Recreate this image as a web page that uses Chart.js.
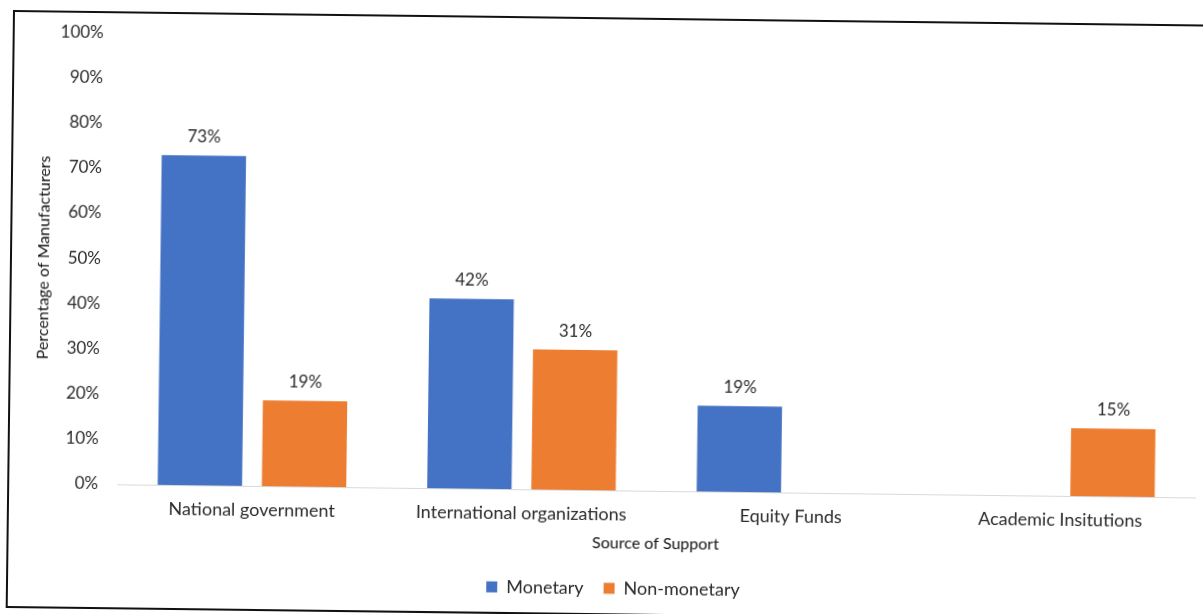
<!DOCTYPE html>
<html>
<head>
<meta charset="utf-8">
<script src="https://cdn.jsdelivr.net/npm/chart.js@4.4.1/dist/chart.umd.min.js"></script>
<style>
  html, body { margin: 0; padding: 0; background: #fff; overflow: hidden; }
  body { width: 1203px; height: 614px; position: relative; }
  #frame {
    position: absolute; left: 13px; top: 10px;
    width: 1212px; height: 598px; box-sizing: border-box;
    border: 2px solid #111; background: #fff;
    transform: rotate(0.7deg); transform-origin: 0 0;
  }
  #chart { position: absolute; left: 0; top: -10px; }
</style>
</head>
<body>
<div id="frame"><canvas id="chart" width="1208" height="604"></canvas></div>
<script>
// Sources of support and share of manufacturers receiving each kind
const categories = ['National government', 'International organizations', 'Equity Funds', 'Academic Insitutions'];
const monetary = [73, 42, 19, null];
const nonMonetary = [19, 31, null, 15];
const yTicks = [0, 10, 20, 30, 40, 50, 60, 70, 80, 90, 100];

const FONT = 'Lato, "Open Sans", sans-serif';
const TEXT = '#2b2b2b';

// Value labels above each bar
const barLabels = {
  id: 'barLabels',
  afterDatasetsDraw(chart) {
    const ctx = chart.ctx;
    ctx.save();
    ctx.font = '17px ' + FONT;
    ctx.fillStyle = TEXT;
    ctx.textAlign = 'center';
    ctx.textBaseline = 'bottom';
    chart.data.datasets.forEach((ds, i) => {
      chart.getDatasetMeta(i).data.forEach((bar, j) => {
        const v = ds.data[j];
        if (v === null || v === undefined) return;
        ctx.fillText(v + '%', bar.x, bar.y - 10);
      });
    });
    ctx.restore();
  }
};

// Centre the legend on the full canvas width rather than the padded box
const legendCentre = {
  id: 'legendCentre',
  afterLayout(chart) {
    const lg = chart.legend;
    if (!lg) return;
    const shift = 12;
    lg.left += shift;
    lg.right += shift;
  }
};

new Chart(document.getElementById('chart'), {
  type: 'bar',
  data: {
    labels: categories,
    datasets: [
      { label: 'Monetary', data: monetary, backgroundColor: '#4472C4' },
      { label: 'Non-monetary', data: nonMonetary, backgroundColor: '#ED7D31' }
    ]
  },
  options: {
    responsive: false,
    animation: false,
    devicePixelRatio: 1,
    categoryPercentage: 0.773,
    barPercentage: 0.81,
    layout: { padding: { left: 0, right: 22, top: 0, bottom: 6 } },
    plugins: {
      legend: {
        position: 'bottom',
        labels: {
          font: { family: FONT, size: 18 },
          color: TEXT,
          boxWidth: 11, boxHeight: 11,
          padding: 20
        }
      },
      tooltip: { enabled: false }
    },
    scales: {
      x: {
        grid: { display: false, drawTicks: false },
        border: { display: true, color: '#d9d9d9', width: 1 },
        ticks: { font: { family: FONT, size: 18 }, color: TEXT, padding: 13 },
        title: {
          display: true, text: 'Source of Support',
          font: { family: FONT, size: 16 }, color: '#111',
          padding: { top: 4, bottom: 7 }
        },
        afterFit(scale) { scale.height = 69; }
      },
      y: {
        min: 0, max: 100,
        afterBuildTicks(scale) { scale.ticks = yTicks.map(v => ({ value: v })); },
        grid: { display: false, drawTicks: false },
        border: { display: false },
        ticks: {
          font: { family: FONT, size: 17 }, color: TEXT, padding: 19,
          callback: v => v + '%'
        },
        title: {
          display: true, text: 'Percentage of Manufacturers',
          font: { family: FONT, size: 16 }, color: '#111',
          padding: { top: 22, bottom: 0 }
        },
        afterFit(scale) { scale.width = 108; }
      }
    }
  },
  plugins: [barLabels, legendCentre]
});
</script>
</body>
</html>
